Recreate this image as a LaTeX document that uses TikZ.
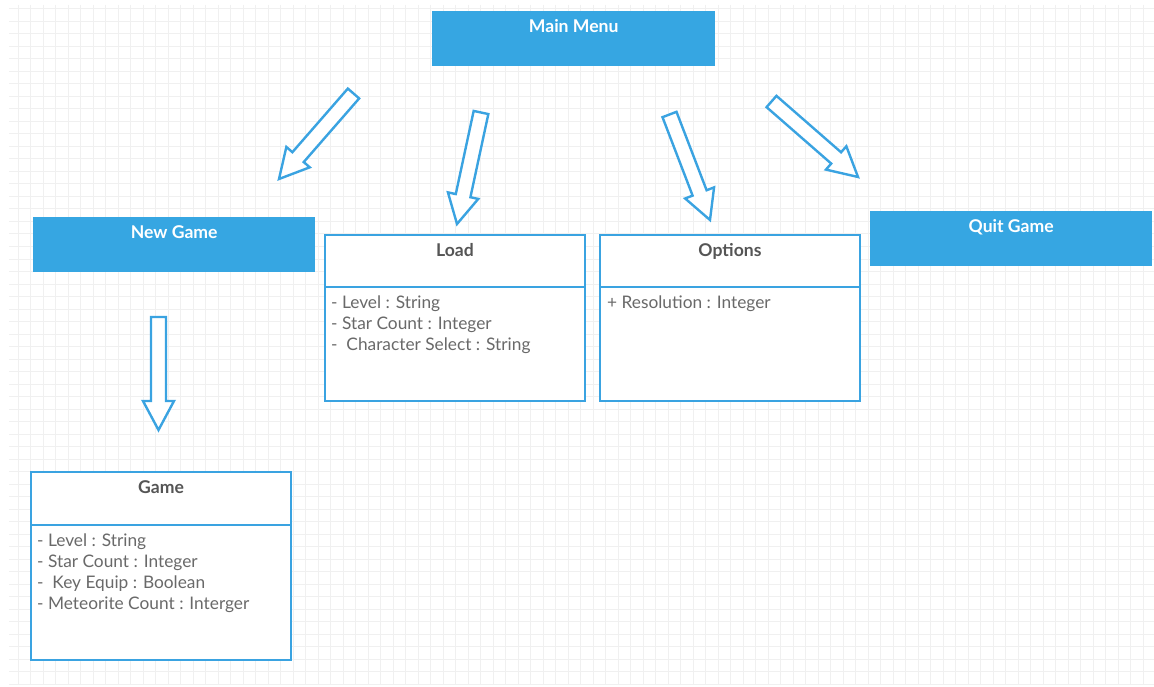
\documentclass[tikz,border=0pt]{standalone}
\usepackage{fontspec}
\setmainfont{Lato}
\usetikzlibrary{positioning,calc}

\definecolor{menublue}{RGB}{54,166,226}
\definecolor{edgeblue}{RGB}{58,163,225}
\definecolor{titlegray}{RGB}{85,85,85}
\definecolor{attrgray}{RGB}{105,105,105}
\definecolor{gridgray}{RGB}{240,240,240}

% hollow block arrow from tail #1 to tip #2
\newcommand{\fatarrow}[2]{%
  \coordinate (#1-b) at ($(#2)!29pt!(#1)$);
  \draw[fatline]
    ($(#1)!7.5pt!90:(#2)$) -- ($(#1-b)!7.5pt!90:(#2)$) -- ($(#1-b)!15.5pt!90:(#2)$)
    -- (#2)
    -- ($(#1-b)!15.5pt!-90:(#2)$) -- ($(#1-b)!7.5pt!-90:(#2)$) -- ($(#1)!7.5pt!-90:(#2)$)
    -- cycle;
}

\begin{document}
\begin{tikzpicture}[
        x=1pt, y=-1pt,
        gridline/.style={draw=gridgray, line width=1pt},
        menubox/.style={rectangle, fill=menublue, minimum width=283pt, minimum height=55pt,
            text height=18pt, text depth=31pt, inner ysep=3pt, anchor=north west,
            text=white, font=\bfseries\fontsize{17.6}{20}\selectfont},
        classhead/.style={rectangle, draw=edgeblue, line width=2.2pt, fill=white,
            minimum width=260pt, minimum height=52pt, text height=19.5pt, text depth=29.5pt,
            inner ysep=1.5pt, outer sep=0pt, anchor=north west, text=titlegray,
            font=\bfseries\fontsize{17.6}{20}\selectfont},
        classbody/.style={rectangle, draw=edgeblue, line width=2.2pt, fill=white,
            minimum width=260pt, inner sep=0pt, outer sep=0pt},
        attrs/.style={anchor=north west, align=left, inner sep=0pt, text=attrgray,
            font=\fontsize{17.3}{21}\selectfont},
        fatline/.style={draw=edgeblue, line width=2.4pt, fill=white, line join=miter}
    ]

    \useasboundingbox[fill=white] (0,0) rectangle (1154,687);

    % Grid
    \foreach \gx in {18,30.5,...,1154}
        \draw[gridline] (\gx,5) -- (\gx,684);
    \foreach \gy in {9,21.5,...,684}
        \draw[gridline] (9,\gy) -- (1154,\gy);

    % Menu boxes
    \node[menubox] (mainmenu) at (432,11) {Main Menu};
    \node[menubox, minimum width=282pt] (newgame) at (33,217) {New Game};
    \node[menubox, minimum width=282pt] (quitgame) at (870,211) {Quit Game};

    % Classes
    \node[classhead] (load) at (325,235) {Load};
    \node[classbody, minimum height=114pt, below=0pt of load] (loadattr) {};
    \node[attrs] (loadtext) at ($(loadattr.north west)+(6,9)$)
        {- Level : String\\- Star Count : Integer\\-~~Character Select : String};

    \node[classhead] (options) at (600,235) {Options};
    \node[classbody, minimum height=114pt, below=0pt of options] (optattr) {};
    \node[attrs] (opttext) at ($(optattr.north west)+(7,9)$)
        {+ Resolution : Integer};

    \node[classhead, minimum height=53pt, text depth=30.5pt] (game) at (31,472) {Game};
    \node[classbody, minimum height=135pt, below=0pt of game] (gameattr) {};
    \node[attrs] (gametext) at ($(gameattr.north west)+(6,9)$)
        {- Level : String\\- Star Count : Integer\\-~~Key Equip : Boolean\\- Meteorite Count : Interger};

    % Arrows
    \coordinate (tonew) at (353.5,93.5);   \coordinate (tonew-e) at (279,179);
    \coordinate (toload) at (481,112.5);   \coordinate (toload-e) at (457,224);
    \coordinate (toopt) at (669.5,114.5);  \coordinate (toopt-e) at (710,220);
    \coordinate (toquit) at (771.5,101.5); \coordinate (toquit-e) at (858,177);
    \coordinate (togame) at (158.5,317);   \coordinate (togame-e) at (158.5,430);

    \fatarrow{tonew}{tonew-e}
    \fatarrow{toload}{toload-e}
    \fatarrow{toopt}{toopt-e}
    \fatarrow{toquit}{toquit-e}
    \fatarrow{togame}{togame-e}

\end{tikzpicture}
\end{document}
